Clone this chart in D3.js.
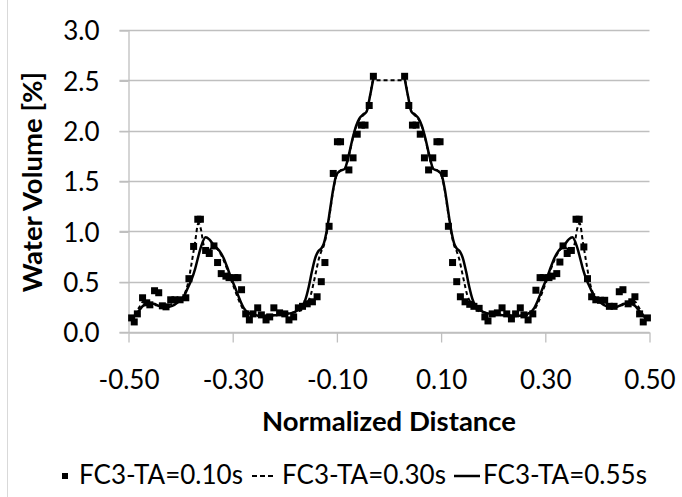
<!DOCTYPE html>
<html>
<head>
<meta charset="utf-8">
<script src="https://cdn.jsdelivr.net/npm/d3@7"></script>
<style>
  body { margin: 0; background: #fff; }
  svg { display: block; font-family: Lato, "Open Sans", sans-serif; }
</style>
</head>
<body>
<svg id="chart" width="682" height="497"></svg>
<script>
// FC3-TA=0.10s (square markers), [distance, volume]
const ta010 = [
  [-0.494, 0.14], [-0.489, 0.10], [-0.483, 0.18], [-0.473, 0.34], [-0.465, 0.29],
  [-0.459, 0.27], [-0.450, 0.41], [-0.442, 0.39], [-0.435, 0.26], [-0.428, 0.25],
  [-0.419, 0.32], [-0.411, 0.32], [-0.401, 0.32], [-0.390, 0.34], [-0.384, 0.53],
  [-0.375, 0.85], [-0.367, 1.12], [-0.362, 1.12], [-0.352, 0.81], [-0.345, 0.78],
  [-0.336, 0.855], [-0.329, 0.69], [-0.322, 0.58], [-0.313, 0.555], [-0.307, 0.54],
  [-0.296, 0.54], [-0.290, 0.54], [-0.283, 0.42], [-0.275, 0.18], [-0.268, 0.12],
  [-0.261, 0.18], [-0.252, 0.24], [-0.245, 0.17], [-0.236, 0.12], [-0.229, 0.15],
  [-0.221, 0.24], [-0.210, 0.19], [-0.200, 0.18], [-0.192, 0.12], [-0.183, 0.15],
  [-0.174, 0.24], [-0.166, 0.255], [-0.157, 0.28], [-0.147, 0.30], [-0.138, 0.35],
  [-0.130, 0.50], [-0.123, 0.69], [-0.115, 1.05], [-0.107, 1.575], [-0.099, 1.89],
  [-0.093, 1.89], [-0.084, 1.73], [-0.077, 1.61], [-0.069, 1.73], [-0.061, 1.965],
  [-0.053, 2.055], [-0.046, 2.055], [-0.038, 2.25], [-0.030, 2.54],
  [0.030, 2.54], [0.038, 2.25], [0.045, 2.055], [0.052, 2.055], [0.060, 1.965],
  [0.068, 1.73], [0.076, 1.61], [0.084, 1.73], [0.092, 1.89], [0.098, 1.89],
  [0.106, 1.575], [0.114, 1.05], [0.122, 0.69], [0.130, 0.50], [0.137, 0.35],
  [0.146, 0.30], [0.155, 0.275], [0.163, 0.255], [0.173, 0.235], [0.184, 0.15],
  [0.190, 0.11], [0.198, 0.18], [0.208, 0.19], [0.217, 0.24], [0.226, 0.18],
  [0.235, 0.13], [0.243, 0.18], [0.252, 0.24], [0.259, 0.17], [0.267, 0.12],
  [0.276, 0.18], [0.282, 0.415], [0.290, 0.54], [0.296, 0.54], [0.307, 0.54],
  [0.313, 0.555], [0.322, 0.58], [0.328, 0.695], [0.334, 0.855], [0.342, 0.78],
  [0.350, 0.81], [0.359, 1.12], [0.365, 1.12], [0.374, 0.845], [0.381, 0.53],
  [0.389, 0.35], [0.397, 0.32], [0.406, 0.315], [0.414, 0.315], [0.423, 0.255],
  [0.432, 0.255], [0.442, 0.40], [0.449, 0.42], [0.459, 0.28], [0.466, 0.30],
  [0.472, 0.35], [0.481, 0.18], [0.488, 0.10], [0.496, 0.14]
];

// FC3-TA=0.30s (dashed line)
const ta030 = [
  [-0.498, 0.12], [-0.488, 0.17], [-0.480, 0.24], [-0.472, 0.30], [-0.463, 0.28],
  [-0.452, 0.27], [-0.442, 0.26], [-0.432, 0.25], [-0.422, 0.27], [-0.412, 0.29],
  [-0.402, 0.31], [-0.394, 0.36], [-0.386, 0.48], [-0.379, 0.68], [-0.372, 0.90],
  [-0.366, 1.08], [-0.361, 1.02], [-0.356, 0.87], [-0.349, 0.80], [-0.341, 0.83],
  [-0.334, 0.84], [-0.326, 0.80], [-0.318, 0.72], [-0.311, 0.63], [-0.304, 0.53],
  [-0.296, 0.42], [-0.287, 0.30], [-0.279, 0.22], [-0.270, 0.18], [-0.258, 0.16],
  [-0.244, 0.16], [-0.230, 0.17], [-0.215, 0.17], [-0.200, 0.18], [-0.186, 0.19],
  [-0.172, 0.21], [-0.162, 0.25], [-0.156, 0.30], [-0.150, 0.37], [-0.145, 0.48],
  [-0.140, 0.60], [-0.135, 0.72], [-0.130, 0.80], [-0.125, 0.86], [-0.119, 1.00],
  [-0.113, 1.20], [-0.107, 1.41], [-0.101, 1.55], [-0.094, 1.60], [-0.085, 1.62],
  [-0.078, 1.73], [-0.070, 1.91], [-0.063, 2.04], [-0.057, 2.11], [-0.050, 2.15],
  [-0.043, 2.19], [-0.037, 2.33], [-0.030, 2.50],
  [0.030, 2.50], [0.037, 2.33], [0.043, 2.19], [0.050, 2.15], [0.057, 2.11],
  [0.063, 2.04], [0.070, 1.91], [0.078, 1.73], [0.085, 1.62], [0.094, 1.60],
  [0.101, 1.55], [0.107, 1.41], [0.113, 1.20], [0.119, 1.00], [0.125, 0.86],
  [0.130, 0.80], [0.135, 0.72], [0.140, 0.60], [0.145, 0.48], [0.150, 0.37],
  [0.156, 0.30], [0.162, 0.25], [0.172, 0.21], [0.186, 0.19], [0.200, 0.18],
  [0.215, 0.17], [0.230, 0.17], [0.244, 0.16], [0.258, 0.16], [0.270, 0.18],
  [0.279, 0.22], [0.287, 0.30], [0.296, 0.42], [0.304, 0.53], [0.311, 0.63],
  [0.318, 0.72], [0.326, 0.80], [0.334, 0.84], [0.341, 0.83], [0.349, 0.80],
  [0.356, 0.87], [0.361, 1.02], [0.366, 1.08], [0.372, 0.90], [0.379, 0.68],
  [0.386, 0.48], [0.394, 0.36], [0.402, 0.31], [0.412, 0.29], [0.422, 0.27],
  [0.432, 0.25], [0.442, 0.26], [0.452, 0.27], [0.463, 0.28], [0.472, 0.30],
  [0.480, 0.24], [0.488, 0.17], [0.498, 0.12]
];

// FC3-TA=0.55s (solid line), null = no value drawn
const ta055 = [
  [-0.498, 0.12], [-0.488, 0.16], [-0.480, 0.21], [-0.472, 0.26], [-0.463, 0.28],
  [-0.452, 0.28], [-0.442, 0.26], [-0.432, 0.24], [-0.422, 0.25], [-0.412, 0.27],
  [-0.402, 0.31], [-0.394, 0.35], [-0.386, 0.44], [-0.379, 0.52], [-0.372, 0.63],
  [-0.366, 0.75], [-0.360, 0.86], [-0.352, 0.94], [-0.345, 0.92], [-0.336, 0.86],
  [-0.326, 0.81], [-0.318, 0.74], [-0.311, 0.65], [-0.304, 0.55], [-0.296, 0.45],
  [-0.287, 0.33], [-0.279, 0.24], [-0.270, 0.19], [-0.258, 0.17], [-0.244, 0.16],
  [-0.230, 0.16], [-0.215, 0.17], [-0.200, 0.18], [-0.186, 0.19], [-0.174, 0.22],
  [-0.166, 0.26], [-0.160, 0.33], [-0.154, 0.45], [-0.148, 0.60], [-0.142, 0.73],
  [-0.136, 0.80], [-0.130, 0.83], [-0.125, 0.88], [-0.119, 1.02], [-0.113, 1.22],
  [-0.107, 1.42], [-0.101, 1.56], [-0.094, 1.60], [-0.085, 1.62], [-0.078, 1.74],
  [-0.070, 1.92], [-0.063, 2.05], [-0.057, 2.12], [-0.050, 2.16], [-0.043, 2.19],
  [-0.037, 2.33], [-0.030, 2.52],
  [0.000, null],
  [0.030, 2.52], [0.037, 2.33], [0.043, 2.19], [0.050, 2.16], [0.057, 2.12],
  [0.063, 2.05], [0.070, 1.92], [0.078, 1.74], [0.085, 1.62], [0.094, 1.60],
  [0.101, 1.56], [0.107, 1.42], [0.113, 1.22], [0.119, 1.02], [0.125, 0.88],
  [0.130, 0.83], [0.136, 0.80], [0.142, 0.73], [0.148, 0.60], [0.154, 0.45],
  [0.160, 0.33], [0.166, 0.26], [0.174, 0.22], [0.186, 0.19], [0.200, 0.18],
  [0.215, 0.17], [0.230, 0.16], [0.244, 0.16], [0.258, 0.17], [0.270, 0.19],
  [0.279, 0.24], [0.287, 0.33], [0.296, 0.45], [0.304, 0.55], [0.311, 0.65],
  [0.318, 0.74], [0.326, 0.81], [0.336, 0.86], [0.345, 0.92], [0.352, 0.94],
  [0.360, 0.86], [0.366, 0.75], [0.372, 0.63], [0.379, 0.52], [0.386, 0.44],
  [0.394, 0.35], [0.402, 0.31], [0.412, 0.27], [0.422, 0.25], [0.432, 0.24],
  [0.442, 0.26], [0.452, 0.28], [0.463, 0.28], [0.472, 0.26], [0.480, 0.21],
  [0.488, 0.16], [0.498, 0.12]
];

const xTicks = [-0.5, -0.3, -0.1, 0.1, 0.3, 0.5];
const yTicks = [0, 0.5, 1.0, 1.5, 2.0, 2.5, 3.0];
const seriesNames = ["FC3-TA=0.10s", "FC3-TA=0.30s", "FC3-TA=0.55s"];

const svg = d3.select("#chart");
const gridColor = "#bfbfbf";
const fontSize = 26;
const titleSize = 27.5;

// chart area border (left edge visible)
svg.append("line")
  .attr("x1", 7.5).attr("x2", 7.5)
  .attr("y1", 0).attr("y2", 497)
  .attr("stroke", "#d9d9d9");

const x = d3.scaleLinear().domain([-0.5, 0.5]).range([128.5, 649.5]);
const y = d3.scaleLinear().domain([0, 3]).range([332, 30]);

// Gridlines (start at the tick mark left of the axis)
svg.append("g")
  .selectAll("line")
  .data(yTicks)
  .join("line")
  .attr("x1", x(-0.5) - 9)
  .attr("x2", x(0.5))
  .attr("y1", (d) => Math.round(y(d)) + 0.5)
  .attr("y2", (d) => Math.round(y(d)) + 0.5)
  .attr("stroke", gridColor)
  .attr("stroke-width", 1.3);

// Y axis
const yAxis = svg.append("g")
  .attr("transform", `translate(${x(-0.5)}, 0.5)`)
  .call(d3.axisLeft(y).tickValues(yTicks).tickSize(9).tickSizeOuter(0)
    .tickPadding(20).tickFormat((d) => d.toFixed(1)));
yAxis.selectAll("path, line").attr("stroke", gridColor).attr("stroke-width", 1.3);
yAxis.selectAll("text")
  .attr("font-family", "Lato, 'Open Sans', sans-serif")
  .attr("font-size", fontSize)
  .attr("fill", "#000")
  .attr("dy", "0.36em");

// X axis
const xAxis = svg.append("g")
  .attr("transform", `translate(0, ${Math.round(y(0)) + 0.5})`)
  .call(d3.axisBottom(x).tickValues(xTicks).tickSize(10).tickSizeOuter(0)
    .tickPadding(28).tickFormat((d) => d.toFixed(2)));
xAxis.selectAll("path, line").attr("stroke", gridColor).attr("stroke-width", 1.3);
xAxis.selectAll("text")
  .attr("font-family", "Lato, 'Open Sans', sans-serif")
  .attr("font-size", fontSize)
  .attr("fill", "#000");

// Axis titles
svg.append("text")
  .attr("x", (x(-0.5) + x(0.5)) / 2)
  .attr("y", 431)
  .attr("text-anchor", "middle")
  .attr("font-size", titleSize)
  .attr("font-weight", "bold")
  .text("Normalized Distance");

svg.append("text")
  .attr("transform", "translate(42, 182) rotate(-90)")
  .attr("text-anchor", "middle")
  .attr("font-size", titleSize)
  .attr("font-weight", "bold")
  .text("Water Volume [%]");

// Square markers
const sq = 7;
svg.append("g")
  .selectAll("rect")
  .data(ta010)
  .join("rect")
  .attr("x", (d) => x(d[0]) - sq / 2)
  .attr("y", (d) => y(d[1]) - sq / 2)
  .attr("width", sq)
  .attr("height", sq)
  .attr("fill", "#000");

// Lines
const line = d3.line()
  .defined((d) => d[1] != null)
  .x((d) => x(d[0]))
  .y((d) => y(d[1]))
  .curve(d3.curveMonotoneX);

svg.append("path")
  .datum(ta030)
  .attr("d", line)
  .attr("fill", "none")
  .attr("stroke", "#000")
  .attr("stroke-width", 2)
  .attr("stroke-dasharray", "4,3");

svg.append("path")
  .datum(ta055)
  .attr("d", line)
  .attr("fill", "none")
  .attr("stroke", "#000")
  .attr("stroke-width", 2.5);

// Legend
const legY = 476;
const leg = svg.append("g").attr("font-size", fontSize);

leg.append("rect")
  .attr("x", 62).attr("y", legY - 3)
  .attr("width", 6).attr("height", 6)
  .attr("fill", "#000");
leg.append("text").attr("x", 79).attr("y", 484).text(seriesNames[0]);

leg.append("line")
  .attr("x1", 252).attr("x2", 276)
  .attr("y1", legY).attr("y2", legY)
  .attr("stroke", "#000").attr("stroke-width", 2)
  .attr("stroke-dasharray", "5,3");
leg.append("text").attr("x", 282).attr("y", 484).text(seriesNames[1]);

leg.append("line")
  .attr("x1", 454).attr("x2", 480)
  .attr("y1", legY).attr("y2", legY)
  .attr("stroke", "#000").attr("stroke-width", 2.5);
leg.append("text").attr("x", 483).attr("y", 484).text(seriesNames[2]);
</script>
</body>
</html>
